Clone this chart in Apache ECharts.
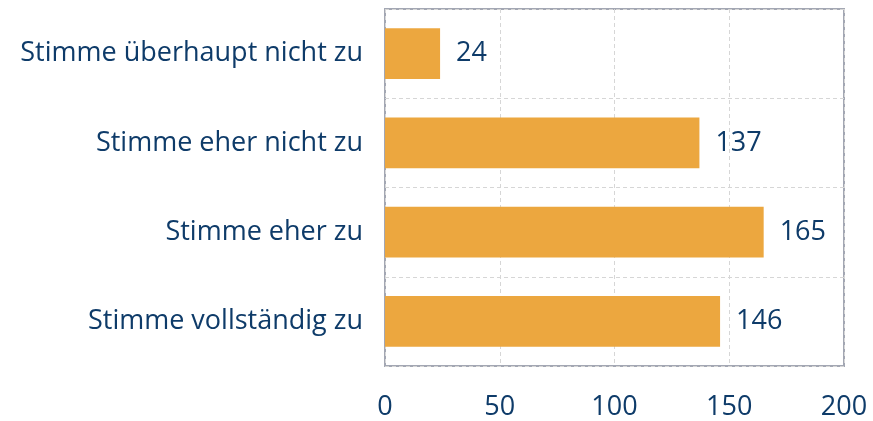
<!DOCTYPE html>
<html><head><meta charset="utf-8">
<script src="https://cdn.jsdelivr.net/npm/echarts@6/dist/echarts.min.js"></script>
<style>html,body{margin:0;padding:0;background:#fff}#c{width:873px;height:421px}</style>
</head><body><div id="c"></div>
<script>
const categories = ["Stimme überhaupt nicht zu","Stimme eher nicht zu","Stimme eher zu","Stimme vollständig zu"];
const values = [24,137,165,146];
const xTicks = [0,50,100,150,200];
const txt = '#0e3b69';
const font = 'Open Sans';
const chart = echarts.init(document.getElementById('c'));
chart.setOption({
  animation:false,
  grid:{left:385,right:29,top:9,bottom:55,show:true,borderColor:'#a3a7b3',borderWidth:2},
  xAxis:{type:'value',min:xTicks[0],max:xTicks[xTicks.length-1],interval:50,
    axisLine:{show:false},axisTick:{show:false},
    axisLabel:{color:txt,fontSize:27,fontFamily:font,margin:28},
    splitLine:{lineStyle:{color:'#d6d6d6',type:[4,3],width:1}}},
  yAxis:{type:'category',data:categories,inverse:true,
    axisLine:{show:false},axisTick:{show:false},
    axisLabel:{color:txt,fontSize:27,fontFamily:font,margin:22},
    splitLine:{show:true,lineStyle:{color:'#d6d6d6',type:[4,3],width:1}}},
  series:[{type:'bar',data:values,barWidth:'57%',itemStyle:{color:'#eca73f'},
    label:{show:true,position:'right',distance:16,color:txt,fontSize:27,fontFamily:font}}]
});
</script></body></html>
